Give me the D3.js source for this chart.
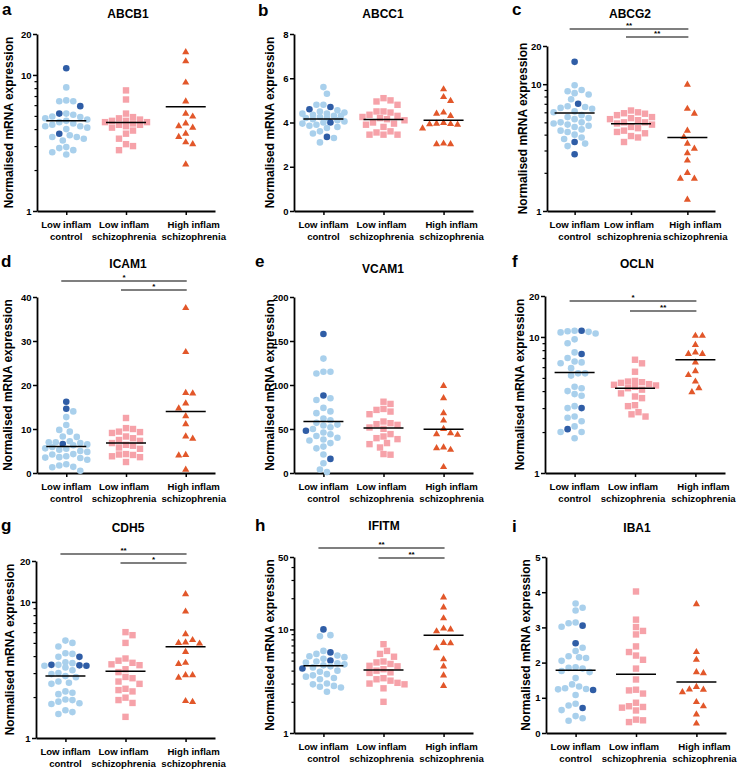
<!DOCTYPE html>
<html><head><meta charset="utf-8">
<script src="https://cdn.jsdelivr.net/npm/d3@7/dist/d3.min.js"></script>
<style>
html,body{margin:0;padding:0;background:#fff;}
svg{display:block;font-family:"Liberation Sans",Arial,Helvetica,sans-serif;font-weight:bold;}
</style></head>
<body>
<svg id="chart" width="740" height="769"></svg>
<script>
// ---------- DATA ----------
const categories = ["Low inflam control", "Low inflam schizophrenia", "High inflam schizophrenia"];
const categoryLines = [["Low inflam", "control"], ["Low inflam", "schizophrenia"], ["High inflam", "schizophrenia"]];
const genes = ["ABCB1", "ABCC1", "ABCG2", "ICAM1", "VCAM1", "OCLN", "CDH5", "IFITM", "IBA1"];
const panelLetters = ["a", "b", "c", "d", "e", "f", "g", "h", "i"];
const yAxisTitle = "Normalised mRNA expression";
const scaleTypes = ["log", "linear", "log", "linear", "linear", "log", "log", "log", "linear"];
const yDomains = [[1, 20], [0, 8], [1, 20], [0, 40], [0, 200], [1, 20], [1, 20], [1, 50], [0, 5]];
const yTickLabels = [[1, 10, 20], [0, 2, 4, 6, 8], [1, 10, 20], [0, 10, 20, 30, 40], [0, 50, 100, 150, 200],
  [1, 10, 20], [1, 10, 20], [1, 10, 50], [0, 1, 2, 3, 4, 5]];

const ABCB1_control = [8.1, 6.5, 6.4, 6.4, 5.2, 5.1, 4.95, 4.9, 4.8, 4.7, 4.6, 4.5, 4.4, 4.3, 4.2, 4.2, 4.1, 4.0, 3.6, 3.5, 3.5, 3.4, 3.3, 2.95, 2.9, 2.8, 2.7, 2.6];
const ABCB1_controlDark = [11.2, 5.9, 5.2, 3.7];
const ABCB1_lowSz = [7.7, 6.6, 5.2, 4.9, 4.8, 4.7, 4.6, 4.6, 4.5, 4.5, 4.4, 4.3, 4.3, 4.2, 4.1, 3.9, 3.7, 3.4, 3.1, 3.0, 2.8];
const ABCB1_highSz = [14.7, 12.6, 8.8, 6.4, 5.2, 4.95, 4.4, 4.2, 4.1, 3.7, 3.5, 3.2, 3.1, 2.2];
const ABCB1_centre = [4.6, 4.47, 5.85];

const ABCC1_control = [5.6, 5.3, 4.8, 4.8, 4.55, 4.5, 4.45, 4.4, 4.4, 4.35, 4.3, 4.3, 4.25, 4.2, 4.2, 4.15, 4.1, 4.05, 4.0, 3.95, 3.9, 3.85, 3.8, 3.75, 3.6, 3.5, 3.3, 3.1];
const ABCC1_controlDark = [4.7, 4.6, 4.0, 3.35];
const ABCC1_lowSz = [5.1, 5.0, 4.95, 4.8, 4.5, 4.5, 4.45, 4.35, 4.3, 4.25, 4.2, 4.15, 4.1, 4.0, 3.95, 3.9, 3.8, 3.6, 3.55, 3.45, 3.45, 3.45];
const ABCC1_highSz = [5.5, 5.15, 4.98, 4.45, 4.4, 4.3, 3.98, 3.95, 3.93, 3.92, 3.9, 3.73, 3.05, 3.02, 3.02];
const ABCC1_centre = [4.16, 4.14, 4.1];

const ABCG2_control = [9.8, 9.0, 8.8, 8.5, 8.3, 7.6, 6.7, 6.6, 6.5, 6.4, 6.1, 6.0, 5.7, 5.5, 5.4, 5.3, 5.0, 5.0, 4.9, 4.8, 4.7, 4.6, 4.4, 4.3, 4.2, 4.0, 3.8, 3.7, 3.4, 3.25];
const ABCG2_controlDark = [15, 7.0, 3.5, 2.8];
const ABCG2_lowSz = [6.2, 6.0, 5.9, 5.85, 5.7, 5.5, 5.4, 5.3, 5.2, 5.0, 5.0, 4.9, 4.8, 4.6, 4.5, 4.3, 4.2, 4.1, 3.9, 3.8, 3.5];
const ABCG2_highSz = [9.9, 6.4, 5.85, 4.3, 3.83, 3.4, 3.1, 2.86, 2.5, 2.0, 1.8, 1.8, 1.23];
const ABCG2_centre = [5.93, 4.88, 3.79];
const ABCG2_signif = [[0, 2, "**"], [1, 2, "**"]];

const ICAM1_control = [14.0, 12.7, 10.9, 9.8, 9.4, 8.3, 8.2, 7.2, 7.0, 7.0, 6.8, 6.5, 6.3, 5.9, 5.6, 5.5, 5.3, 5.0, 4.8, 4.3, 4.2, 3.8, 3.6, 3.5, 3.4, 3.0, 2.0, 1.7, 1.4, 1.3, 0.5];
const ICAM1_controlDark = [16.2, 14.6, 6.6];
const ICAM1_lowSz = [12.5, 10.2, 10.0, 9.4, 9.3, 9.1, 8.3, 7.9, 7.5, 7.3, 6.8, 6.4, 6.2, 5.8, 5.5, 4.3, 4.2, 4.1, 3.8, 3.6, 2.5];
const ICAM1_highSz = [37.5, 27.5, 18.2, 18.1, 15.8, 14.7, 12.9, 11.1, 8.3, 7.8, 4.1, 4.0, 0.75];
const ICAM1_centre = [6.0, 6.8, 14.0];
const ICAM1_signif = [[0, 2, "*"], [1, 2, "*"]];

const VCAM1_control = [130, 115, 115, 113, 85, 83, 74, 70, 68, 62, 60, 57, 55, 54, 52, 50, 46, 44, 42, 40, 38, 37, 34, 30, 28, 21, 11, 4, 1];
const VCAM1_controlDark = [158, 88, 48, 16];
const VCAM1_lowSz = [81, 78.5, 72.8, 71.7, 69.8, 66.8, 58.5, 56.6, 55.5, 54.7, 51.7, 50.2, 44.2, 41.5, 39.6, 38.5, 34, 32.8, 29, 21.5, 20.8];
const VCAM1_highSz = [99, 85, 68, 59.6, 50.2, 45.3, 44.2, 43.4, 29, 28.3, 26.4, 6.8];
const VCAM1_centre = [58.5, 51, 49.8];

const OCLN_control = [11.0, 10.9, 10.8, 10.6, 11.1, 9.6, 9.0, 7.7, 7.0, 6.6, 6.5, 6.4, 5.9, 5.4, 5.4, 5.2, 4.3, 4.2, 4.0, 3.8, 3.7, 3.1, 3.0, 2.6, 2.55, 2.4, 2.2, 2.0, 2.0, 1.8];
const OCLN_controlDark = [11.1, 7.5, 3.0, 2.1];
const OCLN_lowSz = [6.8, 6.4, 5.55, 4.75, 4.7, 4.65, 4.6, 4.5, 4.45, 4.4, 4.3, 4.2, 4.1, 3.85, 3.65, 3.55, 3.15, 3.1, 2.8, 2.7, 2.6];
const OCLN_highSz = [10.2, 10.2, 8.75, 7.7, 7.5, 7.5, 6.5, 5.6, 5.25, 4.7, 4.2, 3.93];
const OCLN_centre = [5.48, 4.2, 6.8];
const OCLN_signif = [[0, 2, "*"], [1, 2, "**"]];

const CDH5_control = [5.2, 5.0, 4.7, 4.2, 4.15, 3.95, 3.6, 3.55, 3.45, 3.4, 3.3, 3.15, 3.0, 2.95, 2.85, 2.8, 2.6, 2.55, 2.5, 2.2, 2.15, 2.1, 1.92, 1.9, 1.85, 1.8, 1.78, 1.6, 1.55, 1.5];
const CDH5_controlDark = [3.95, 3.45, 3.42, 3.4];
const CDH5_lowSz = [6.0, 5.7, 5.0, 3.84, 3.7, 3.57, 3.48, 3.43, 3.2, 3.05, 2.81, 2.75, 2.6, 2.5, 2.3, 2.25, 2.2, 1.98, 1.9, 1.81, 1.43];
const CDH5_highSz = [11.4, 8.5, 5.8, 5.25, 5.05, 5.0, 4.95, 4.3, 3.57, 3.5, 2.9, 2.9, 2.78, 1.87, 1.84];
const CDH5_centre = [2.85, 3.1, 4.68];
const CDH5_signif = [[0, 2, "**"], [1, 2, "*"]];

const IFITM_control = [8.8, 8.6, 6.2, 5.8, 5.6, 5.5, 5.4, 5.2, 4.9, 4.8, 4.7, 4.6, 4.5, 4.4, 4.3, 4.0, 3.9, 3.7, 3.6, 3.5, 3.4, 3.3, 3.0, 2.95, 2.85, 2.8, 2.75, 2.5];
const IFITM_controlDark = [10, 6.0, 5.0, 4.2];
const IFITM_lowSz = [7.2, 6.2, 5.8, 5.45, 4.9, 4.8, 4.64, 4.45, 4.4, 4.13, 4.0, 3.85, 3.8, 3.38, 3.3, 3.2, 3.05, 3.0, 2.95, 2.7, 2.0];
const IFITM_highSz = [20.4, 16.3, 12.8, 10.2, 10.0, 9.6, 7.4, 7.35, 6.6, 5.15, 4.4, 3.6, 2.85];
const IFITM_centre = [4.47, 4.06, 8.8];
const IFITM_signif = [[0, 2, "**"], [1, 2, "**"]];

const IBA1_control = [3.68, 3.56, 3.48, 3.14, 3.12, 3.02, 2.42, 2.33, 2.18, 2.15, 2.13, 2.05, 1.87, 1.85, 1.83, 1.76, 1.73, 1.56, 1.38, 1.32, 1.27, 1.25, 1.24, 1.08, 0.83, 0.78, 0.65, 0.48, 0.42, 0.35];
const IBA1_controlDark = [3.05, 2.55, 1.22, 0.71];
const IBA1_lowSz = [4.02, 3.22, 3.01, 2.9, 2.8, 2.46, 2.3, 2.2, 2.08, 1.83, 1.52, 1.23, 1.21, 1.12, 0.86, 0.76, 0.74, 0.72, 0.64, 0.38, 0.36, 0.31];
const IBA1_highSz = [3.66, 2.3, 2.08, 1.73, 1.7, 1.31, 1.24, 1.23, 1.16, 0.88, 0.76, 0.53, 0.27];
const IBA1_centre = [1.78, 1.67, 1.45];

// ---------- LAYOUT (pixels, styles) ----------
const layout = [
  {ax: 37, xEnd: 215, top: 34, bottom: 211, titleX: 128, titleY: 18, lx: 2, ly: 15, ylabX: 13, sigY: [29, 37]},
  {ax: 294, xEnd: 473, top: 34, bottom: 211, titleX: 383, titleY: 18, lx: 258, ly: 16, ylabX: 274, sigY: [29, 37]},
  {ax: 547, xEnd: 715, top: 46, bottom: 211, titleX: 630, titleY: 18, lx: 512, ly: 15, ylabX: 527, sigY: [29, 37]},
  {ax: 37, xEnd: 215, top: 297, bottom: 473, titleX: 128, titleY: 268, lx: 1, ly: 267, ylabX: 12, sigY: [281, 290]},
  {ax: 294, xEnd: 473, top: 297, bottom: 473, titleX: 383, titleY: 273, lx: 255, ly: 267, ylabX: 274, sigY: [281, 290]},
  {ax: 545, xEnd: 725, top: 296, bottom: 473, titleX: 637, titleY: 268, lx: 512, ly: 267, ylabX: 524, sigY: [301, 311]},
  {ax: 36, xEnd: 215, top: 561, bottom: 738, titleX: 128, titleY: 532, lx: 1, ly: 531, ylabX: 14, sigY: [554, 563]},
  {ax: 294, xEnd: 473, top: 557, bottom: 733, titleX: 384, titleY: 530, lx: 255, ly: 531, ylabX: 274, sigY: [548, 558]},
  {ax: 546, xEnd: 726, top: 557, bottom: 733, titleX: 637, titleY: 532, lx: 512, ly: 532, ylabX: 530, sigY: [548, 558]}
];
const labelShift = [0, -2, 8];
const colors = {control: "#a9d0ec", controlDark: "#2f5da6", lowSz: "#f6a2a9", highSz: "#e2572a"};

const panels = [
  [ABCB1_control, ABCB1_controlDark, ABCB1_lowSz, ABCB1_highSz, ABCB1_centre, []],
  [ABCC1_control, ABCC1_controlDark, ABCC1_lowSz, ABCC1_highSz, ABCC1_centre, []],
  [ABCG2_control, ABCG2_controlDark, ABCG2_lowSz, ABCG2_highSz, ABCG2_centre, ABCG2_signif],
  [ICAM1_control, ICAM1_controlDark, ICAM1_lowSz, ICAM1_highSz, ICAM1_centre, ICAM1_signif],
  [VCAM1_control, VCAM1_controlDark, VCAM1_lowSz, VCAM1_highSz, VCAM1_centre, []],
  [OCLN_control, OCLN_controlDark, OCLN_lowSz, OCLN_highSz, OCLN_centre, OCLN_signif],
  [CDH5_control, CDH5_controlDark, CDH5_lowSz, CDH5_highSz, CDH5_centre, CDH5_signif],
  [IFITM_control, IFITM_controlDark, IFITM_lowSz, IFITM_highSz, IFITM_centre, IFITM_signif],
  [IBA1_control, IBA1_controlDark, IBA1_lowSz, IBA1_highSz, IBA1_centre, []]
];

// ---------- DRAW ----------
const svg = d3.select("#chart");

// simple dot-plot layout: nearest free slot to the centre, capped width
function swarm(items, cx, y, diam, step, maxOff) {
  const placed = [];
  const sorted = items.map(d => Object.assign({}, d, {py: y(d.v)})).sort((a, b) => a.py - b.py);
  let flip = 1;
  const nSteps = Math.floor(maxOff / step);
  for (const p of sorted) {
    let best = null, bestGap = -Infinity;
    for (let k = 0; k <= 2 * nSteps; k++) {
      const off = k === 0 ? 0 : (k % 2 ? flip : -flip) * Math.ceil(k / 2) * step;
      const px = cx + off;
      let minD = Infinity;
      placed.forEach(q => { const d2 = Math.hypot(q.px - px, q.py - p.py); if (d2 < minD) minD = d2; });
      if (minD >= diam) { best = off; break; }
      if (minD > bestGap + 0.5) { bestGap = minD; best = off; }
    }
    p.px = cx + best;
    if (best !== 0) flip = -flip;
    placed.push(p);
  }
  return placed;
}

panels.forEach((pd, i) => {
  const L = layout[i];
  const [ctrl, ctrlDark, low, high, centre, signif] = pd;
  const g = svg.append("g");
  const x = d3.scalePoint().domain(categories).range([L.ax, L.xEnd]).padding(0.49);
  const y = (scaleTypes[i] === "log" ? d3.scaleLog() : d3.scaleLinear()).domain(yDomains[i]).range([L.bottom, L.top]);

  // letter + title
  g.append("text").attr("x", L.lx).attr("y", L.ly).attr("font-size", 17).attr("font-weight", "bold").text(panelLetters[i]);
  g.append("text").attr("x", L.titleX).attr("y", L.titleY).attr("text-anchor", "middle").attr("font-size", 12).text(genes[i]);

  // y label
  g.append("text").attr("transform", `translate(${L.ylabX},${(L.top + L.bottom) / 2}) rotate(-90)`)
    .attr("text-anchor", "middle").attr("font-size", 12).text(yAxisTitle);

  // minor ticks for log axes
  if (scaleTypes[i] === "log") {
    const minors = [];
    for (let dec = 1; dec < yDomains[i][1]; dec *= 10)
      for (let m = 2; m <= 9; m++) { const v = m * dec; if (v < yDomains[i][1] && !yTickLabels[i].includes(v)) minors.push(v); }
    const minorAxis = d3.axisLeft(y).tickValues(minors).tickSize(2.5).tickFormat("").tickSizeOuter(0);
    const mg = g.append("g").attr("transform", `translate(${L.ax},0)`).call(minorAxis);
    mg.select(".domain").remove();
    mg.selectAll("line").attr("stroke", "#000").attr("stroke-width", 1.2);
  }
  // y axis
  const ya = g.append("g").attr("transform", `translate(${L.ax},0)`)
    .call(d3.axisLeft(y).tickValues(yTickLabels[i]).tickSize(4).tickSizeOuter(0).tickPadding(1.5).tickFormat(d3.format("d")));
  ya.select(".domain").attr("stroke", "#000").attr("stroke-width", 1.8);
  ya.selectAll(".tick line").attr("stroke", "#000").attr("stroke-width", 1.5);
  ya.selectAll(".tick text").attr("font-size", 9.5).attr("font-weight", "bold").attr("fill", "#000")
    .attr("font-family", '"Liberation Sans",Arial,sans-serif');

  // x axis
  const xa = g.append("g").attr("transform", `translate(0,${L.bottom})`)
    .call(d3.axisBottom(x).tickSize(4).tickSizeOuter(0).tickFormat(""));
  xa.select(".domain").attr("stroke", "#000").attr("stroke-width", 1.8);
  xa.selectAll(".tick line").attr("stroke", "#000").attr("stroke-width", 1.5);

  // category labels
  categories.forEach((c, ci) => {
    const t = g.append("text").attr("text-anchor", "middle").attr("font-size", 9.6);
    categoryLines[ci].forEach((ln, li) => {
      t.append("tspan").attr("x", x(c) + labelShift[ci]).attr("y", L.bottom + 17 + li * 12).text(ln);
    });
  });

  const diam = 7, step = 3.5, maxOff = 21;
  // control (light + dark)
  const ctrlItems = ctrl.map(v => ({v, dark: false})).concat(ctrlDark.map(v => ({v, dark: true})));
  const ctrlPts = swarm(ctrlItems, x(categories[0]), y, diam, step, maxOff);
  g.selectAll(null).data(ctrlPts).join("circle")
    .attr("cx", d => d.px).attr("cy", d => d.py).attr("r", 3.3)
    .attr("fill", d => d.dark ? colors.controlDark : colors.control);

  const lowPts = swarm(low.map(v => ({v})), x(categories[1]), y, diam, step, maxOff);
  g.selectAll(null).data(lowPts).join("rect")
    .attr("x", d => d.px - 3.2).attr("y", d => d.py - 3.2).attr("width", 6.4).attr("height", 6.4)
    .attr("fill", colors.lowSz);

  const highPts = swarm(high.map(v => ({v})), x(categories[2]), y, diam, step, maxOff);
  const tri = d3.symbol().type(d3.symbolTriangle).size(22);
  g.selectAll(null).data(highPts).join("path")
    .attr("transform", d => `translate(${d.px},${d.py})`).attr("d", tri).attr("fill", colors.highSz);

  // central lines
  g.selectAll(null).data(centre).join("line")
    .attr("x1", (d, k) => x(categories[k]) - 20).attr("x2", (d, k) => x(categories[k]) + 20)
    .attr("y1", d => y(d)).attr("y2", d => y(d)).attr("stroke", "#000").attr("stroke-width", 1.5);

  // significance bars
  signif.forEach((s, si) => {
    const sy = L.sigY[si];
    const x1 = x(categories[s[0]]) - 5, x2 = x(categories[s[1]]) + 1;
    g.append("line").attr("x1", x1).attr("x2", x2).attr("y1", sy).attr("y2", sy).attr("stroke", "#000").attr("stroke-width", 1.2);
    g.append("text").attr("x", (x1 + x2) / 2).attr("y", sy - 1.5).attr("text-anchor", "middle").attr("font-size", 8).text(s[2]);
  });
});
</script>
</body></html>
